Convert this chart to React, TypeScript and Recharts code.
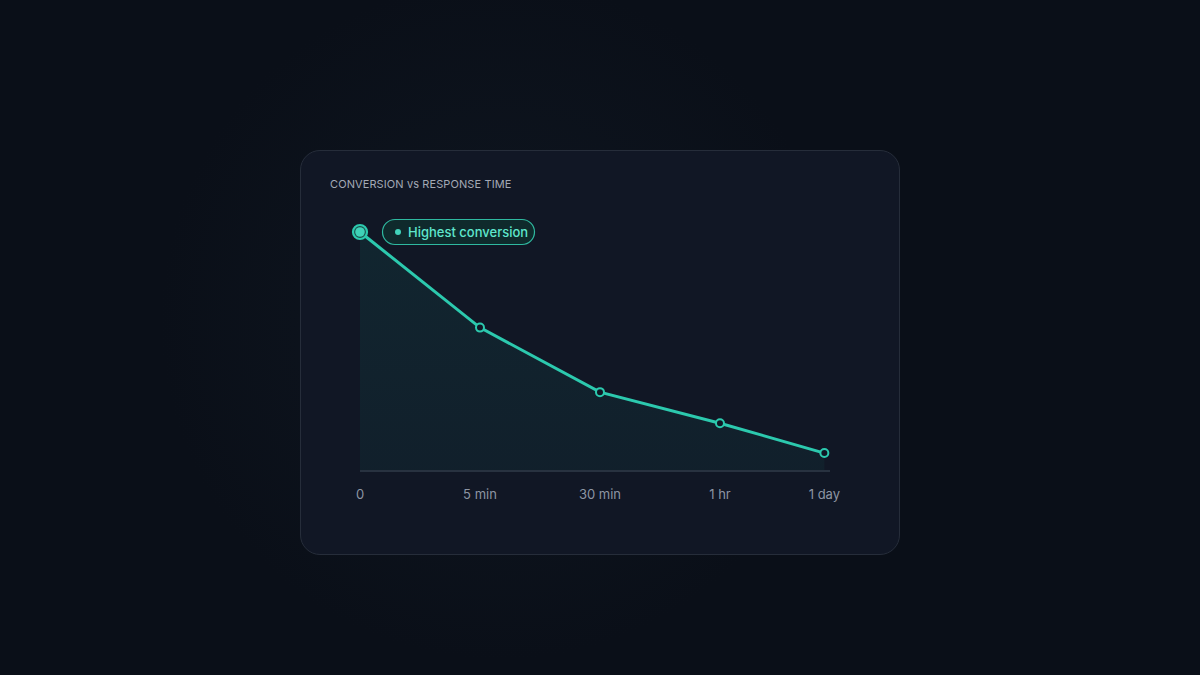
import React from 'react';
import { AreaChart, Area, XAxis, YAxis } from 'recharts';

// response time buckets (x position on a compressed scale) and conversion index
const categories = ['0', '5 min', '30 min', '1 hr', '1 day'];
const timePositions = [0, 1, 2, 3, 3.87];
const conversion = [100, 60, 33, 20, 7.5];

const chartData = categories.map((label, i) => ({
  label,
  t: timePositions[i],
  value: conversion[i],
}));

const TEAL = '#2cc9ae';
const CARD_BG = '#111725';

const labelFor = (t: number) => {
  const i = timePositions.indexOf(t);
  return i >= 0 ? categories[i] : '';
};

// first point gets the big ringed marker plus the badge
const renderDot = (props: any) => {
  const { cx, cy, index } = props;
  if (cx == null || cy == null) return <g key={`d-${index}`} />;
  if (index === 0) {
    return (
      <g key={`d-${index}`}>
        <circle cx={cx} cy={cy} r={7} fill="#1a4f4a" stroke={TEAL} strokeWidth={2.2} />
        <circle cx={cx} cy={cy} r={4.8} fill="#3fd2b8" />
        <rect x={cx + 22.5} y={cy - 12.5} width={152} height={25} rx={12.5}
          fill="#0f2a2c" stroke="#2fb9a0" strokeWidth={1.2} />
        <circle cx={cx + 38} cy={cy} r={3} fill="#41d4ba" />
        <text x={cx + 48} y={cy + 4.5} fill="#5ee6cc" fontSize={13} fontWeight={500}
          fontFamily="Inter, sans-serif">Highest conversion</text>
      </g>
    );
  }
  return (
    <circle key={`d-${index}`} cx={cx} cy={cy} r={4} fill={CARD_BG} stroke={TEAL} strokeWidth={2} />
  );
};

export default function App() {
  return (
    <div
      style={{
        position: 'absolute',
        left: 0,
        top: 0,
        width: 1200,
        height: 675,
        overflow: 'hidden',
        background:
          'radial-gradient(ellipse 340px 340px at 500px 320px, rgba(20,30,42,0.5), rgba(10,15,24,0) 100%), #0a0f18',
        fontFamily: 'Inter, sans-serif',
      }}
    >
      <div
        style={{
          position: 'absolute',
          left: 300,
          top: 150,
          width: 598,
          height: 403,
          borderRadius: 20,
          border: '1px solid #262d3a',
          background: CARD_BG,
        }}
      >
        <div
          style={{
            position: 'absolute',
            left: 29,
            top: 26,
            fontSize: 11,
            color: '#a3a9b5',
            letterSpacing: 0.1,
          }}
        >
          CONVERSION vs RESPONSE TIME
        </div>
        <div style={{ position: 'absolute', left: -1, top: -1 }}>
          <AreaChart
            width={600}
            height={405}
            data={chartData}
            margin={{ top: 82, right: 70, left: 60, bottom: 54 }}
          >
            <defs>
              <linearGradient id="convFill" x1="0" y1="0" x2="0" y2="1">
                <stop offset="0%" stopColor="#13a88e" stopOpacity={0.1} />
                <stop offset="100%" stopColor="#13a88e" stopOpacity={0.06} />
              </linearGradient>
            </defs>
            <XAxis
              dataKey="t"
              type="number"
              domain={[0, 3.917]}
              ticks={timePositions}
              tickFormatter={labelFor}
              height={30}
              axisLine={{ stroke: '#283240', strokeWidth: 2 }}
              tickLine={false}
              tickMargin={13}
              tick={{ fill: '#8d95a3', fontSize: 13, fontFamily: 'Inter, sans-serif' }}
              interval={0}
            />
            <YAxis hide domain={[0, 100]} />
            <Area
              type="linear"
              dataKey="value"
              stroke={TEAL}
              strokeWidth={3}
              fill="url(#convFill)"
              fillOpacity={1}
              dot={renderDot}
              activeDot={false}
              isAnimationActive={false}
            />
          </AreaChart>
        </div>
      </div>
    </div>
  );
}
